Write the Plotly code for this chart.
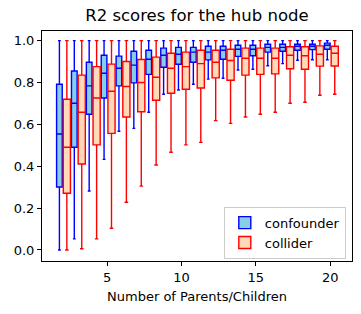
import plotly.graph_objects as go

n_nodes = list(range(2, 21))

conf_low = [0.00, 0.053, 0.282, 0.433, 0.567, 0.581, 0.658, 0.744, 0.764, 0.792, 0.816, 0.820, 0.860, 0.863, 0.880, 0.890, 0.906, 0.909, 0.909]
conf_q1 = [0.301, 0.491, 0.648, 0.726, 0.784, 0.798, 0.839, 0.873, 0.887, 0.897, 0.908, 0.911, 0.925, 0.928, 0.945, 0.949, 0.954, 0.957, 0.959]
conf_med = [0.554, 0.701, 0.784, 0.844, 0.868, 0.883, 0.911, 0.930, 0.935, 0.945, 0.945, 0.954, 0.959, 0.959, 0.968, 0.968, 0.973, 0.973, 0.978]
conf_q3 = [0.792, 0.855, 0.897, 0.930, 0.926, 0.949, 0.954, 0.964, 0.968, 0.968, 0.973, 0.973, 0.978, 0.978, 0.983, 0.983, 0.983, 0.983, 0.988]
conf_high = [1.0] * 19

coll_low = [0.00, 0.006, 0.053, 0.104, 0.228, 0.305, 0.406, 0.467, 0.502, 0.514, 0.618, 0.605, 0.635, 0.648, 0.658, 0.701, 0.706, 0.739, 0.744]
coll_q1 = [0.271, 0.411, 0.502, 0.557, 0.635, 0.660, 0.715, 0.749, 0.768, 0.774, 0.822, 0.811, 0.835, 0.839, 0.841, 0.866, 0.863, 0.878, 0.879]
coll_med = [0.491, 0.658, 0.726, 0.758, 0.781, 0.800, 0.825, 0.868, 0.876, 0.890, 0.897, 0.905, 0.916, 0.916, 0.916, 0.930, 0.928, 0.935, 0.940]
coll_q3 = [0.720, 0.835, 0.876, 0.888, 0.900, 0.910, 0.921, 0.940, 0.945, 0.954, 0.954, 0.959, 0.964, 0.964, 0.964, 0.971, 0.971, 0.975, 0.973]
coll_high = [1.0] * 19

font = "DejaVu Sans"

fig = go.Figure()
fig.add_trace(go.Box(
    name="confounder",
    x=[n - 0.2 for n in n_nodes],
    lowerfence=conf_low, q1=conf_q1, median=conf_med, q3=conf_q3, upperfence=conf_high,
    width=0.38, whiskerwidth=0.5,
    fillcolor="#87CEEB", line=dict(color="blue", width=1.4),
    boxpoints=False,
))
fig.add_trace(go.Box(
    name="collider",
    x=[n + 0.3 for n in n_nodes],
    lowerfence=coll_low, q1=coll_q1, median=coll_med, q3=coll_q3, upperfence=coll_high,
    width=0.48, whiskerwidth=0.5,
    fillcolor="#FFDAB9", line=dict(color="red", width=1.4),
    boxpoints=False,
))

fig.update_layout(
    width=361, height=314,
    margin=dict(l=42, r=9, t=31, b=53, autoexpand=False),
    paper_bgcolor="white", plot_bgcolor="white",
    boxmode="overlay",
    font=dict(family=font, size=13, color="black"),
    title=dict(text="R2 scores for the hub node", x=0.5455, xanchor="center",
               y=0.95, yanchor="middle", yref="container",
               font=dict(size=16.5, family=font)),
    legend=dict(x=0.98, y=0.01, xanchor="right", yanchor="bottom",
                bgcolor="white", bordercolor="#cccccc", borderwidth=1,
                font=dict(size=13, family=font), tracegroupgap=0),
    showlegend=True,
)
fig.update_xaxes(
    range=[0.63, 21.46], tickvals=[5, 10, 15, 20], ticks="outside", ticklen=4,
    tickcolor="black", showline=True, linecolor="black", linewidth=1, mirror=True,
    showgrid=False, zeroline=False, automargin=False,
    title=dict(text="Number of Parents/Children", font=dict(size=13, family=font), standoff=8),
)
fig.update_yaxes(
    range=[-0.0526, 1.046], tickvals=[0, 0.2, 0.4, 0.6, 0.8, 1.0], tickformat=".1f",
    ticks="outside", ticklen=4, tickcolor="black", showline=True, linecolor="black",
    linewidth=1, mirror=True, showgrid=False, zeroline=False, automargin=False,
)

fig.write_html("out.html", config={"displayModeBar": False},
               post_script="document.body.style.margin='0';document.body.style.overflow='hidden';")
